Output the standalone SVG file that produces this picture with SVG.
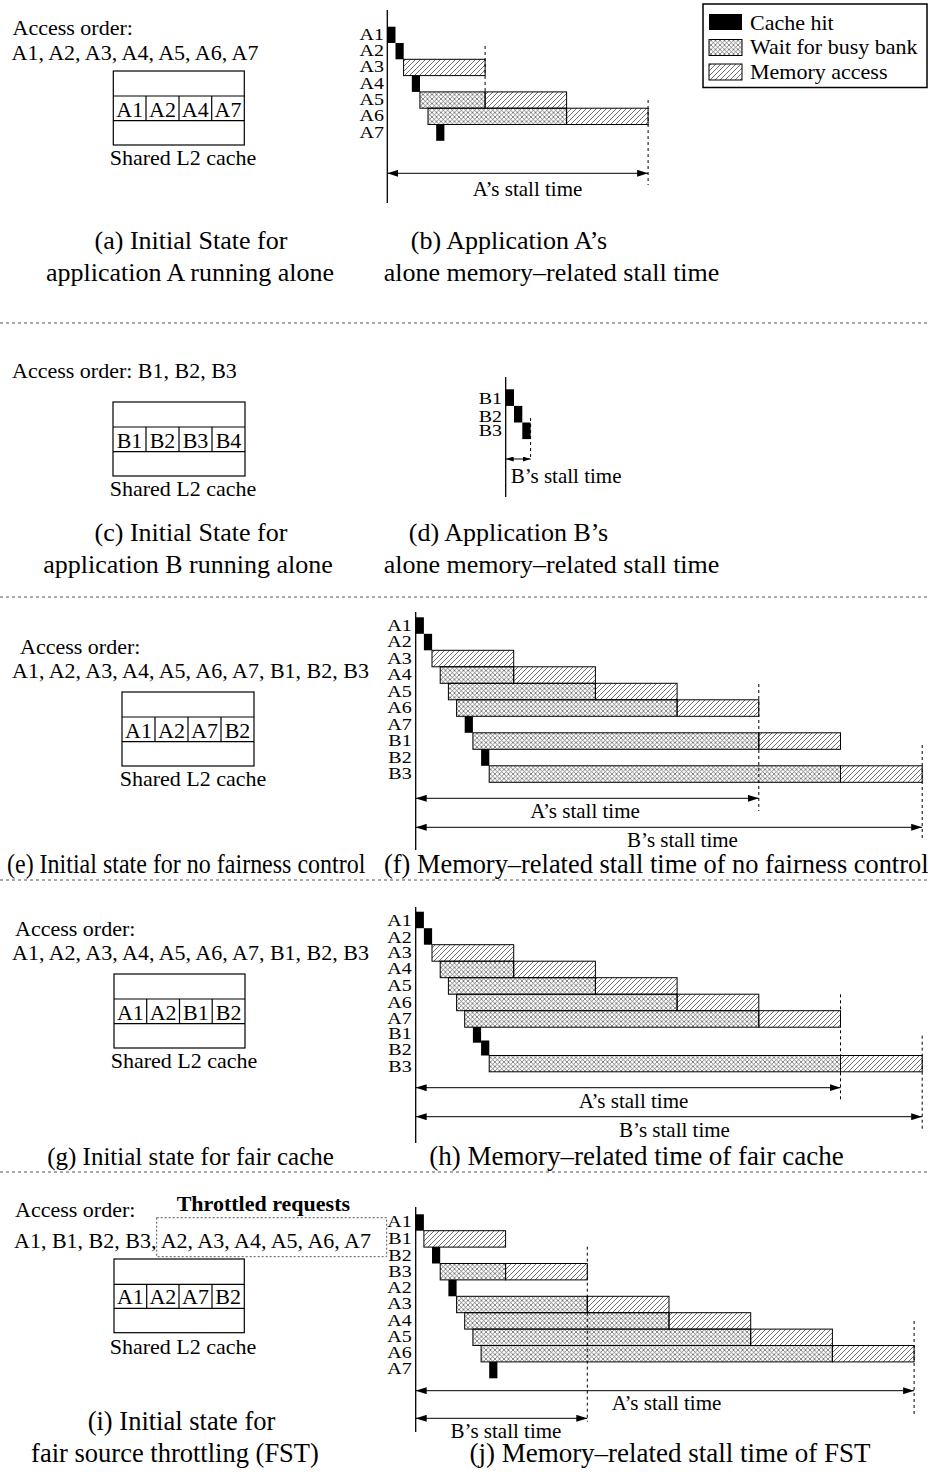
<svg xmlns="http://www.w3.org/2000/svg" width="928" height="1476" viewBox="0 0 928 1476">
<style>
text{font-family:"Liberation Serif","Times New Roman",serif;fill:#000}
.cap{font-size:26px;text-anchor:middle}
.capl{font-size:24px}
.lbl{font-size:22px}
.cell{font-size:22px;text-anchor:middle}
.row{font-size:20px;text-anchor:end}
.st{font-size:21px}
.bold{font-size:22px;font-weight:bold}
.hit{fill:#000}
.mem{fill:url(#hatch);stroke:#000;stroke-width:1}
.wait{fill:url(#cross);stroke:#000;stroke-width:1}
.box{fill:#fff;stroke:#000;stroke-width:1.2}
.ln{stroke:#000;stroke-width:1.2;fill:none}
.axis{stroke:#000;stroke-width:1.3}
.vd{stroke:#000;stroke-width:1;stroke-dasharray:3,3}
.sep{stroke:#555;stroke-width:1;stroke-dasharray:3,3}
.arr{stroke:#000;stroke-width:1;marker-start:url(#ah);marker-end:url(#ah)}
.arrs{stroke:#000;stroke-width:1;marker-start:url(#ahs);marker-end:url(#ahs)}
.dot{fill:none;stroke:#555;stroke-width:1;stroke-dasharray:2,2}
</style>
<defs>
<pattern id="hatch" width="5" height="5" patternUnits="userSpaceOnUse">
<path d="M-1,1 L1,-1 M0,5 L5,0 M4,6 L6,4" stroke="#333" stroke-width="0.7"/>
</pattern>
<pattern id="cross" width="4.5" height="4.5" patternUnits="userSpaceOnUse">
<path d="M0,0 L4.5,4.5 M-1,3.5 L1,5.5 M3.5,-1 L5.5,1 M0,4.5 L4.5,0 M-1,1 L1,-1 M3.5,5.5 L5.5,3.5" stroke="#555" stroke-width="0.7"/>
</pattern>
<marker id="ah" viewBox="0 0 11 7" refX="11" refY="3.5" markerWidth="11" markerHeight="7" markerUnits="userSpaceOnUse" orient="auto-start-reverse">
<path d="M0,0 L11,3.5 L0,7 z" fill="#000"/>
</marker>
<marker id="ahs" viewBox="0 0 8 5" refX="8" refY="2.5" markerWidth="8" markerHeight="5" markerUnits="userSpaceOnUse" orient="auto-start-reverse">
<path d="M0,0 L8,2.5 L0,5 z" fill="#000"/>
</marker>
</defs>
<rect width="928" height="1476" fill="#fff"/>

<g id="legend">
<rect x="703" y="4" width="224" height="83.5" fill="#fff" stroke="#000" stroke-width="1.5"/>
<rect x="709" y="14" width="33" height="16" class="hit"/>
<rect x="709" y="39.5" width="33" height="16" class="wait"/>
<rect x="709" y="64" width="33" height="16" class="mem"/>
<text x="750" y="30" class="lbl">Cache hit</text>
<text x="750" y="54" class="lbl">Wait for busy bank</text>
<text x="750" y="79" class="lbl">Memory access</text>
</g>

<g id="separators">
<line x1="0" y1="323" x2="928" y2="323" class="sep"/>
<line x1="0" y1="597" x2="928" y2="597" class="sep"/>
<line x1="0" y1="880" x2="928" y2="880" class="sep"/>
<line x1="0" y1="1172" x2="928" y2="1172" class="sep"/>
</g>

<!-- (a) -->
<g id="panel-a">
<text x="12.5" y="35" class="lbl">Access order:</text>
<text x="11.5" y="60" class="lbl">A1, A2, A3, A4, A5, A6, A7</text>
<rect x="113.3" y="71" width="131" height="74" class="box"/>
<path d="M113.3,96 H244.3 M113.3,120.7 H244.3 M146,96 V120.7 M179,96 V120.7 M211.7,96 V120.7" class="ln"/>
<text x="129.7" y="116.7" class="cell">A1</text>
<text x="162.5" y="116.7" class="cell">A2</text>
<text x="195.3" y="116.7" class="cell">A4</text>
<text x="228" y="116.7" class="cell">A7</text>
<text x="183" y="165" class="lbl" text-anchor="middle">Shared L2 cache</text>
<text x="191" y="249" class="cap">(a) Initial State for</text>
<text x="190" y="281" class="cap">application A running alone</text>
</g>

<!-- (b) -->
<g id="panel-b">
<line x1="387.3" y1="10" x2="387.3" y2="203" class="axis"/>
<text class="row" transform="translate(384 39.7) scale(1 .85)">A1</text>
<text class="row" transform="translate(384 56) scale(1 .85)">A2</text>
<text class="row" transform="translate(384 72.3) scale(1 .85)">A3</text>
<text class="row" transform="translate(384 88.6) scale(1 .85)">A4</text>
<text class="row" transform="translate(384 104.9) scale(1 .85)">A5</text>
<text class="row" transform="translate(384 121.2) scale(1 .85)">A6</text>
<text class="row" transform="translate(384 137.5) scale(1 .85)">A7</text>
<rect x="387.3" y="26.7" width="8.2" height="16.3" class="hit"/>
<rect x="395.5" y="43" width="8.2" height="16.3" class="hit"/>
<rect x="403.6" y="59.3" width="81.5" height="16.3" class="mem"/>
<rect x="411.8" y="75.6" width="8.2" height="16.3" class="hit"/>
<rect x="419.9" y="91.9" width="65.2" height="16.3" class="wait"/>
<rect x="485.1" y="91.9" width="81.5" height="16.3" class="mem"/>
<rect x="428" y="108.2" width="138.6" height="16.3" class="wait"/>
<rect x="566.6" y="108.2" width="81.5" height="16.3" class="mem"/>
<rect x="436.2" y="124.5" width="8.2" height="16.3" class="hit"/>
<text x="527.5" y="196" class="st" text-anchor="middle">A’s stall time</text>
<text x="509" y="249" class="cap">(b) Application A’s</text>
<text x="551.5" y="281" class="cap">alone memory–related stall time</text>
</g>

<!-- (c) -->
<g id="panel-c">
<text x="12" y="378" class="lbl">Access order: B1, B2, B3</text>
<rect x="113" y="402" width="132" height="74" class="box"/>
<path d="M113,427 H245 M113,451.7 H245 M146,427 V451.7 M179,427 V451.7 M212,427 V451.7" class="ln"/>
<text x="129.5" y="447.7" class="cell">B1</text>
<text x="162.5" y="447.7" class="cell">B2</text>
<text x="195.5" y="447.7" class="cell">B3</text>
<text x="228.5" y="447.7" class="cell">B4</text>
<text x="183" y="496" class="lbl" text-anchor="middle">Shared L2 cache</text>
<text x="191" y="541" class="cap">(c) Initial State for</text>
<text x="188" y="573" class="cap">application B running alone</text>
</g>

<!-- (d) -->
<g id="panel-d">
<line x1="505.7" y1="377" x2="505.7" y2="497" class="axis"/>
<text class="row" transform="translate(502 403.5) scale(1 .85)">B1</text>
<text class="row" transform="translate(502 421.5) scale(1 .85)">B2</text>
<text class="row" transform="translate(502 436) scale(1 .85)">B3</text>
<rect x="505.7" y="389.3" width="8.3" height="16.6" class="hit"/>
<rect x="514" y="405.9" width="8.3" height="16.6" class="hit"/>
<rect x="522.3" y="422.5" width="8.3" height="16.6" class="hit"/>
<text x="510.7" y="483.3" class="st">B’s stall time</text>
<text x="508.5" y="541" class="cap">(d) Application B’s</text>
<text x="551.5" y="573" class="cap">alone memory–related stall time</text>
</g>

<!-- (e) -->
<g id="panel-e">
<text x="20" y="654" class="lbl">Access order:</text>
<text x="12" y="678" class="lbl">A1, A2, A3, A4, A5, A6, A7, B1, B2, B3</text>
<rect x="122" y="692" width="132" height="74" class="box"/>
<path d="M122,717 H254 M122,741.7 H254 M155,717 V741.7 M188,717 V741.7 M221,717 V741.7" class="ln"/>
<text x="138.5" y="737.7" class="cell">A1</text>
<text x="171.5" y="737.7" class="cell">A2</text>
<text x="204.5" y="737.7" class="cell">A7</text>
<text x="237.5" y="737.7" class="cell">B2</text>
<text x="193" y="786" class="lbl" text-anchor="middle">Shared L2 cache</text>
<text class="capl" transform="translate(7 873) scale(1 1.1)">(e) Initial state for no fairness control</text>
</g>

<!-- (f) -->
<g id="panel-f">
<line x1="415.7" y1="612" x2="415.7" y2="850" class="axis"/>
<text class="row" transform="translate(411.7 630.8) scale(1 .85)">A1</text>
<text class="row" transform="translate(411.7 647.3) scale(1 .85)">A2</text>
<text class="row" transform="translate(411.7 663.8) scale(1 .85)">A3</text>
<text class="row" transform="translate(411.7 680.3) scale(1 .85)">A4</text>
<text class="row" transform="translate(411.7 696.8) scale(1 .85)">A5</text>
<text class="row" transform="translate(411.7 713.3) scale(1 .85)">A6</text>
<text class="row" transform="translate(411.7 729.8) scale(1 .85)">A7</text>
<text class="row" transform="translate(411.7 746.3) scale(1 .85)">B1</text>
<text class="row" transform="translate(411.7 762.8) scale(1 .85)">B2</text>
<text class="row" transform="translate(411.7 779.3) scale(1 .85)">B3</text>
<rect x="415.7" y="617.3" width="8.2" height="16.5" class="hit"/>
<rect x="423.9" y="633.8" width="8.2" height="16.5" class="hit"/>
<rect x="432" y="650.3" width="81.7" height="16.5" class="mem"/>
<rect x="440.2" y="666.8" width="73.5" height="16.5" class="wait"/>
<rect x="513.7" y="666.8" width="81.7" height="16.5" class="mem"/>
<rect x="448.4" y="683.3" width="147" height="16.5" class="wait"/>
<rect x="595.4" y="683.3" width="81.7" height="16.5" class="mem"/>
<rect x="456.6" y="699.8" width="220.5" height="16.5" class="wait"/>
<rect x="677.1" y="699.8" width="81.7" height="16.5" class="mem"/>
<rect x="464.7" y="716.3" width="8.2" height="16.5" class="hit"/>
<rect x="472.9" y="732.8" width="285.9" height="16.5" class="wait"/>
<rect x="758.8" y="732.8" width="81.7" height="16.5" class="mem"/>
<rect x="481.1" y="749.3" width="8.2" height="16.5" class="hit"/>
<rect x="489.2" y="765.8" width="351.3" height="16.5" class="wait"/>
<rect x="840.5" y="765.8" width="81.7" height="16.5" class="mem"/>
<text x="585" y="818" class="st" text-anchor="middle">A’s stall time</text>
<text x="682.5" y="846.7" class="st" text-anchor="middle">B’s stall time</text>
<text x="384" y="873" class="capl" style="font-size:26.4px">(f) Memory–related stall time of no fairness control</text>
</g>

<!-- (g) -->
<g id="panel-g">
<text x="15" y="936" class="lbl">Access order:</text>
<text x="12" y="960" class="lbl">A1, A2, A3, A4, A5, A6, A7, B1, B2, B3</text>
<rect x="114" y="974" width="131" height="74" class="box"/>
<path d="M114,999 H245 M114,1023.7 H245 M146.7,999 V1023.7 M179.5,999 V1023.7 M212.2,999 V1023.7" class="ln"/>
<text x="130.4" y="1019.7" class="cell">A1</text>
<text x="163.1" y="1019.7" class="cell">A2</text>
<text x="195.9" y="1019.7" class="cell">B1</text>
<text x="228.6" y="1019.7" class="cell">B2</text>
<text x="184" y="1068" class="lbl" text-anchor="middle">Shared L2 cache</text>
<text x="190.5" y="1165" class="cap" style="font-size:25px">(g) Initial state for fair cache</text>
</g>

<!-- (h) -->
<g id="panel-h">
<line x1="415.7" y1="907" x2="415.7" y2="1143" class="axis"/>
<text class="row" transform="translate(411.7 926) scale(1 .85)">A1</text>
<text class="row" transform="translate(411.7 942.7) scale(1 .85)">A2</text>
<text class="row" transform="translate(411.7 958.3) scale(1 .85)">A3</text>
<text class="row" transform="translate(411.7 974.3) scale(1 .85)">A4</text>
<text class="row" transform="translate(411.7 991) scale(1 .85)">A5</text>
<text class="row" transform="translate(411.7 1007.7) scale(1 .85)">A6</text>
<text class="row" transform="translate(411.7 1023.7) scale(1 .85)">A7</text>
<text class="row" transform="translate(411.7 1039.3) scale(1 .85)">B1</text>
<text class="row" transform="translate(411.7 1055.3) scale(1 .85)">B2</text>
<text class="row" transform="translate(411.7 1072) scale(1 .85)">B3</text>
<rect x="415.7" y="911.7" width="8.2" height="16.5" class="hit"/>
<rect x="423.9" y="928.2" width="8.2" height="16.5" class="hit"/>
<rect x="432" y="944.7" width="81.7" height="16.5" class="mem"/>
<rect x="440.2" y="961.2" width="73.5" height="16.5" class="wait"/>
<rect x="513.7" y="961.2" width="81.7" height="16.5" class="mem"/>
<rect x="448.4" y="977.7" width="147" height="16.5" class="wait"/>
<rect x="595.4" y="977.7" width="81.7" height="16.5" class="mem"/>
<rect x="456.6" y="994.2" width="220.5" height="16.5" class="wait"/>
<rect x="677.1" y="994.2" width="81.7" height="16.5" class="mem"/>
<rect x="464.7" y="1010.7" width="294.1" height="16.5" class="wait"/>
<rect x="758.8" y="1010.7" width="81.7" height="16.5" class="mem"/>
<rect x="472.9" y="1027.2" width="8.2" height="15.5" class="hit"/>
<rect x="481.1" y="1040.5" width="8.2" height="15" class="hit"/>
<rect x="489.2" y="1055.5" width="351.3" height="16.3" class="wait"/>
<rect x="840.5" y="1055.5" width="81.7" height="16.3" class="mem"/>
<text x="633.5" y="1108" class="st" text-anchor="middle">A’s stall time</text>
<text x="674.5" y="1137" class="st" text-anchor="middle">B’s stall time</text>
<text x="636.5" y="1165" class="cap" style="font-size:27px">(h) Memory–related time of fair cache</text>
</g>

<!-- (i) -->
<g id="panel-i">
<text x="15" y="1216.7" class="lbl">Access order:</text>
<text x="176.7" y="1211" class="bold">Throttled requests</text>
<text x="14" y="1248.3" class="lbl">A1, B1, B2, B3, A2, A3, A4, A5, A6, A7</text>
<rect x="156.7" y="1217.7" width="230" height="39" class="dot"/>
<rect x="114" y="1259" width="130.3" height="73.7" class="box"/>
<path d="M114,1284.3 H244.3 M114,1308.3 H244.3 M146.7,1284.3 V1308.3 M179,1284.3 V1308.3 M212,1284.3 V1308.3" class="ln"/>
<text x="130.4" y="1304.3" class="cell">A1</text>
<text x="162.9" y="1304.3" class="cell">A2</text>
<text x="195.5" y="1304.3" class="cell">A7</text>
<text x="228.2" y="1304.3" class="cell">B2</text>
<text x="183" y="1354" class="lbl" text-anchor="middle">Shared L2 cache</text>
<text x="181.5" y="1430" class="cap" style="font-size:26.5px">(i) Initial state for</text>
<text x="175" y="1462" class="cap" style="font-size:26.5px">fair source throttling (FST)</text>
</g>

<!-- (j) -->
<g id="panel-j">
<line x1="415.7" y1="1207" x2="415.7" y2="1432" class="axis"/>
<text class="row" transform="translate(411.7 1227) scale(1 .85)">A1</text>
<text class="row" transform="translate(411.7 1244.3) scale(1 .85)">B1</text>
<text class="row" transform="translate(411.7 1261) scale(1 .85)">B2</text>
<text class="row" transform="translate(411.7 1277) scale(1 .85)">B3</text>
<text class="row" transform="translate(411.7 1292.7) scale(1 .85)">A2</text>
<text class="row" transform="translate(411.7 1309.3) scale(1 .85)">A3</text>
<text class="row" transform="translate(411.7 1326) scale(1 .85)">A4</text>
<text class="row" transform="translate(411.7 1341.7) scale(1 .85)">A5</text>
<text class="row" transform="translate(411.7 1357.7) scale(1 .85)">A6</text>
<text class="row" transform="translate(411.7 1374.3) scale(1 .85)">A7</text>
<rect x="415.7" y="1214.3" width="8.2" height="16.4" class="hit"/>
<rect x="423.9" y="1230.7" width="81.7" height="16.4" class="mem"/>
<rect x="432" y="1247.1" width="8.2" height="16.4" class="hit"/>
<rect x="440.2" y="1263.5" width="65.4" height="16.4" class="wait"/>
<rect x="505.6" y="1263.5" width="81.7" height="16.4" class="mem"/>
<rect x="448.4" y="1279.9" width="8.2" height="16.4" class="hit"/>
<rect x="456.6" y="1296.3" width="130.7" height="16.4" class="wait"/>
<rect x="587.3" y="1296.3" width="81.7" height="16.4" class="mem"/>
<rect x="464.7" y="1312.7" width="204.3" height="16.4" class="wait"/>
<rect x="669" y="1312.7" width="81.7" height="16.4" class="mem"/>
<rect x="472.9" y="1329.1" width="277.8" height="16.4" class="wait"/>
<rect x="750.7" y="1329.1" width="81.7" height="16.4" class="mem"/>
<rect x="481.1" y="1345.5" width="351.3" height="16.4" class="wait"/>
<rect x="832.4" y="1345.5" width="81.7" height="16.4" class="mem"/>
<rect x="489.2" y="1361.9" width="8.2" height="16.4" class="hit"/>
<text x="666.5" y="1410" class="st" text-anchor="middle">A’s stall time</text>
<text x="506" y="1438.3" class="st" text-anchor="middle">B’s stall time</text>
<text x="670" y="1462" class="cap" style="font-size:27px">(j) Memory–related stall time of FST</text>
</g>

<g id="connectors">
<line x1="485.1" y1="46" x2="485.1" y2="92" class="vd"/>
<line x1="648.1" y1="100" x2="648.1" y2="185" class="vd"/>
<line x1="387.3" y1="173.3" x2="648.1" y2="173.3" class="arr"/>
<line x1="530.6" y1="418" x2="530.6" y2="457" class="vd"/>
<line x1="505.7" y1="459" x2="530.6" y2="459" class="arrs"/>
<line x1="758.8" y1="684" x2="758.8" y2="811" class="vd"/>
<line x1="922.2" y1="745" x2="922.2" y2="840" class="vd"/>
<line x1="415.7" y1="798.3" x2="758.8" y2="798.3" class="arr"/>
<line x1="415.7" y1="827.3" x2="922.2" y2="827.3" class="arr"/>
<line x1="840.5" y1="994.3" x2="840.5" y2="1100" class="vd"/>
<line x1="922.2" y1="1035.7" x2="922.2" y2="1129" class="vd"/>
<line x1="415.7" y1="1087.7" x2="840.5" y2="1087.7" class="arr"/>
<line x1="415.7" y1="1116.7" x2="922.2" y2="1116.7" class="arr"/>
<line x1="587.3" y1="1246.7" x2="587.3" y2="1421.7" class="vd"/>
<line x1="914.1" y1="1321" x2="914.1" y2="1415" class="vd"/>
<line x1="415.7" y1="1390.7" x2="914.1" y2="1390.7" class="arr"/>
<line x1="415.7" y1="1418.3" x2="587.3" y2="1418.3" class="arr"/>
</g>
</svg>
